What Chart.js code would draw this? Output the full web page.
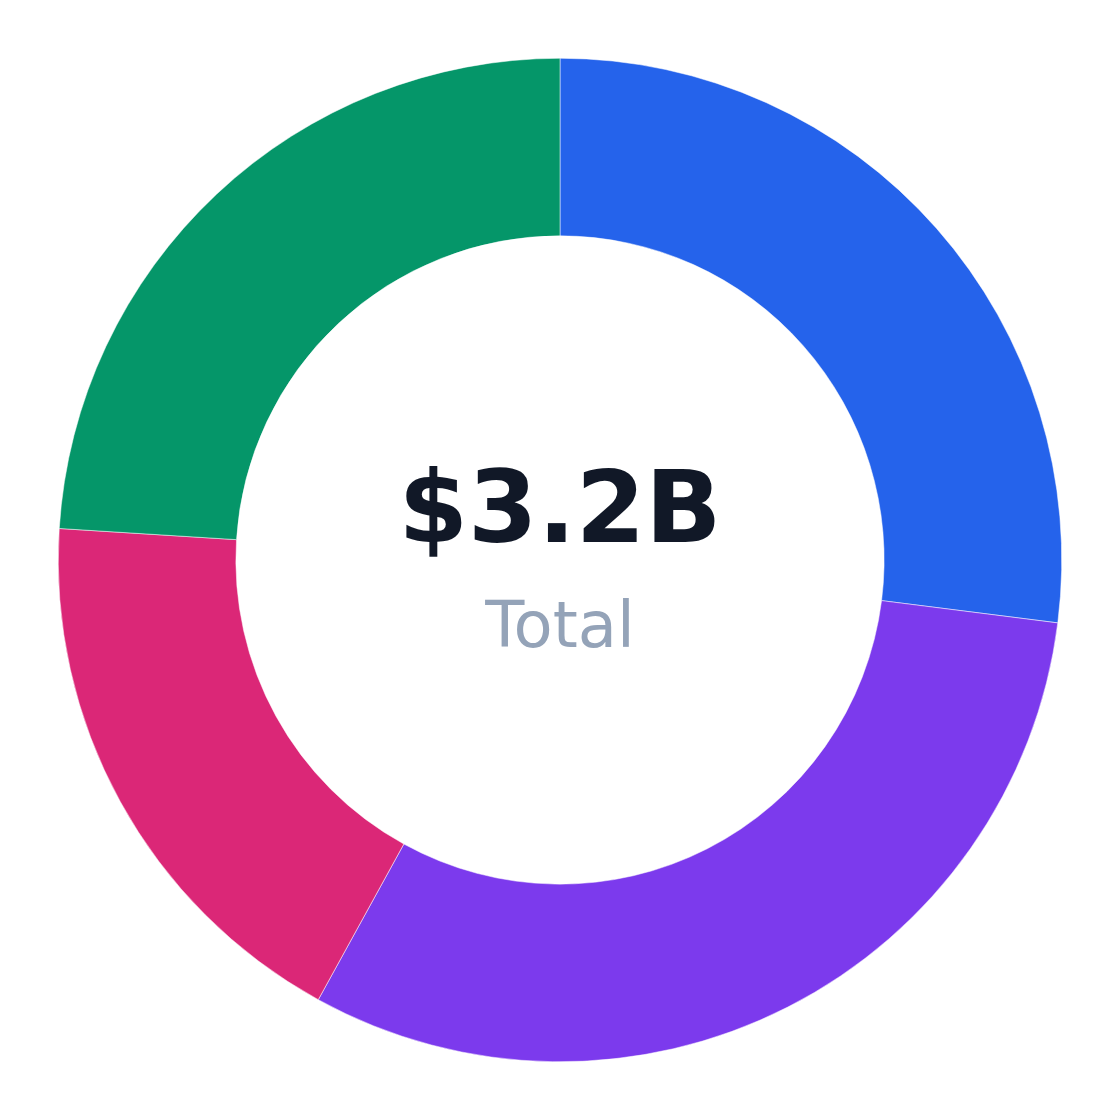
<!DOCTYPE html>
<html>
<head>
<meta charset="utf-8">
<script src="https://cdn.jsdelivr.net/npm/chart.js@4"></script>
<style>
  html, body { margin: 0; padding: 0; background: #fff; }
  #wrap { width: 1120px; height: 1120px; }
</style>
</head>
<body>
<div id="wrap"><canvas id="donutChart"></canvas></div>
<script>
// Datos
const labels = ["Segment A", "Segment B", "Segment C", "Segment D"];
const shares = [27, 31, 18, 24];
const colors = ["#2563eb", "#7c3aed", "#db2777", "#059669"];
const totalText = "$3.2B";
const subText = "Total";

// Texto central
const centerText = {
  id: "centerText",
  afterDraw(chart) {
    const { ctx } = chart;
    const meta = chart.getDatasetMeta(0).data[0];
    const cx = meta.x, cy = meta.y;
    ctx.save();
    ctx.textAlign = "center";
    ctx.textBaseline = "alphabetic";
    ctx.fillStyle = "#111827";
    ctx.font = "bold 100px 'DejaVu Sans'";
    ctx.fillText(totalText, cx, cy - 18);
    ctx.fillStyle = "#94a3b8";
    ctx.font = "64px 'DejaVu Sans'";
    ctx.fillText(subText, cx, cy + 87);
    ctx.restore();
  }
};

new Chart(document.getElementById("donutChart"), {
  type: "doughnut",
  data: {
    labels: labels,
    datasets: [{
      data: shares,
      backgroundColor: colors,
      borderColor: "#ffffff",
      borderWidth: 0.5
    }]
  },
  options: {
    responsive: true,
    maintainAspectRatio: false,
    animation: false,
    cutout: "64.6%",
    layout: { padding: 58 },
    plugins: {
      legend: { display: false },
      tooltip: { enabled: false }
    }
  },
  plugins: [centerText]
});
</script>
</body>
</html>
